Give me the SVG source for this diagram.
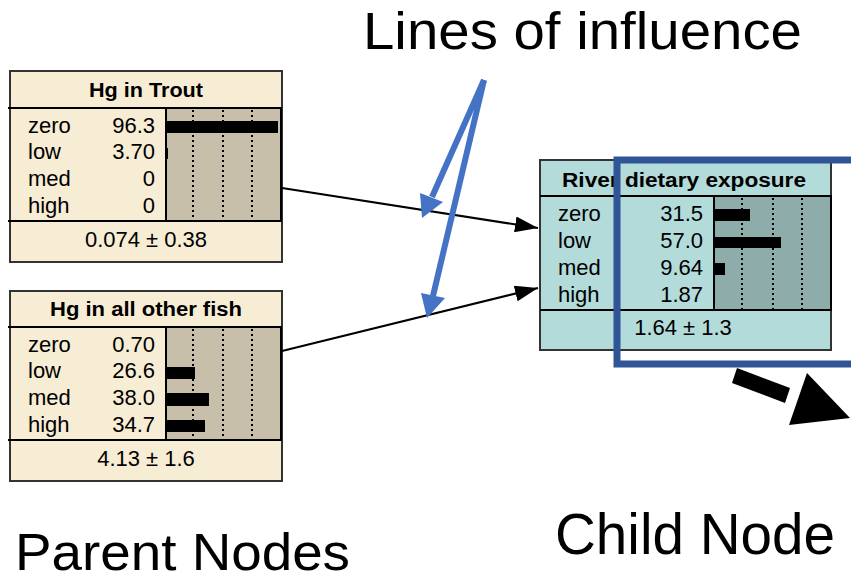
<svg xmlns="http://www.w3.org/2000/svg" width="851" height="587" viewBox="0 0 851 587">
<defs>
<style>
.frame{stroke:#333;stroke-width:2}
.par{fill:#F7EDD4}
.parbar{fill:#C8BFAA;stroke:#000;stroke-width:2}
.chi{fill:#B3DBDA}
.chibar{fill:#8EACAA;stroke:#000;stroke-width:2}
.sep{stroke:#000;stroke-width:2}
.dot{stroke:#000;stroke-width:2;stroke-dasharray:2,3}
.bar{fill:#000}
.t{font-family:"Liberation Sans",Arial,sans-serif;font-size:22px;fill:#000}
.tt{font-family:"Liberation Sans",Arial,sans-serif;font-size:20px;font-weight:bold;fill:#000}
.v{text-anchor:end}
.c{text-anchor:middle}
.big{font-family:"Liberation Sans",Arial,sans-serif;fill:#000}
.link{stroke:#000;stroke-width:2;fill:none}
.blue{stroke:#4472C4;stroke-width:6;fill:none;stroke-linecap:butt}
</style>
<marker id="ah" markerWidth="23" markerHeight="16" refX="23" refY="8" orient="auto" markerUnits="userSpaceOnUse" viewBox="0 0 23 16">
<path d="M0,0 L23,8 L0,16 Z" fill="#000"/>
</marker>
</defs>

<rect width="851" height="587" fill="#fff"/>

<g id="node-hg-trout">
<rect class="par frame" x="10" y="71" width="272" height="191"/>
<rect class="parbar" x="166" y="108" width="115" height="113"/>
<line class="sep" x1="8" y1="108" x2="282" y2="108"/>
<line class="sep" x1="8" y1="221" x2="282" y2="221"/>
<line class="dot" x1="193" y1="110" x2="193" y2="220"/>
<line class="dot" x1="223" y1="110" x2="223" y2="220"/>
<line class="dot" x1="252" y1="110" x2="252" y2="220"/>
<rect class="bar" x="166" y="121" width="112" height="12"/>
<rect class="bar" x="166" y="148" width="2" height="11"/>
<text class="tt c" x="146" y="97" textLength="114" lengthAdjust="spacingAndGlyphs">Hg in Trout</text>
<text class="t" x="28" y="133">zero</text><text class="t v" x="155" y="133">96.3</text>
<text class="t" x="28" y="159">low</text><text class="t v" x="155" y="159">3.70</text>
<text class="t" x="28" y="186">med</text><text class="t v" x="155" y="186">0</text>
<text class="t" x="28" y="213">high</text><text class="t v" x="155" y="213">0</text>
<text class="t c" x="146" y="247">0.074 ± 0.38</text>
</g>

<g id="node-hg-other">
<rect class="par frame" x="10" y="291" width="272" height="190"/>
<rect class="parbar" x="166" y="327" width="115" height="113"/>
<line class="sep" x1="8" y1="327" x2="282" y2="327"/>
<line class="sep" x1="8" y1="440" x2="282" y2="440"/>
<line class="dot" x1="193" y1="329" x2="193" y2="439"/>
<line class="dot" x1="223" y1="329" x2="223" y2="439"/>
<line class="dot" x1="252" y1="329" x2="252" y2="439"/>
<rect class="bar" x="166" y="367" width="29" height="12"/>
<rect class="bar" x="166" y="393" width="43" height="13"/>
<rect class="bar" x="166" y="420" width="39" height="12"/>
<text class="tt c" x="146" y="316" textLength="192" lengthAdjust="spacingAndGlyphs">Hg in all other fish</text>
<text class="t" x="28" y="352">zero</text><text class="t v" x="155" y="352">0.70</text>
<text class="t" x="28" y="378">low</text><text class="t v" x="155" y="378">26.6</text>
<text class="t" x="28" y="405">med</text><text class="t v" x="155" y="405">38.0</text>
<text class="t" x="28" y="432">high</text><text class="t v" x="155" y="432">34.7</text>
<text class="t c" x="146" y="466">4.13 ± 1.6</text>
</g>

<g id="node-river">
<rect class="chi frame" x="540" y="160" width="291" height="190"/>
<rect class="chibar" x="714" y="196" width="117" height="114"/>
<line class="sep" x1="540" y1="196" x2="831" y2="196"/>
<line class="sep" x1="540" y1="310" x2="831" y2="310"/>
<line class="dot" x1="742" y1="198" x2="742" y2="309"/>
<line class="dot" x1="773" y1="198" x2="773" y2="309"/>
<line class="dot" x1="802" y1="198" x2="802" y2="309"/>
<rect class="bar" x="714" y="209" width="36" height="12"/>
<rect class="bar" x="714" y="237" width="67" height="11"/>
<rect class="bar" x="714" y="263" width="11" height="12"/>
<text class="tt" x="562" y="187" textLength="244" lengthAdjust="spacingAndGlyphs">River dietary exposure</text>
<text class="t" x="558" y="221">zero</text><text class="t v" x="703" y="221">31.5</text>
<text class="t" x="558" y="248">low</text><text class="t v" x="703" y="248">57.0</text>
<text class="t" x="558" y="275">med</text><text class="t v" x="703" y="275">9.64</text>
<text class="t" x="558" y="302">high</text><text class="t v" x="703" y="302">1.87</text>
<text class="t c" x="683" y="335">1.64 ± 1.3</text>
</g>

<g id="connectors">
<line class="link" x1="282" y1="188" x2="538" y2="228" marker-end="url(#ah)"/>
<line class="link" x1="282" y1="351" x2="538" y2="288" marker-end="url(#ah)"/>
</g>

<g id="highlight">
<path d="M 860 160 H 617 V 364 H 860" fill="none" stroke="#2F5597" stroke-width="7"/>
<polygon points="737,368 732,383 785,403 790,388" fill="#000"/>
<polygon points="807,373 789,425 850,418" fill="#000"/>
</g>

<g id="annotation-arrows">
<line class="blue" x1="484" y1="80" x2="432" y2="197"/>
<polygon points="422,218 420,193 443,202" fill="#4472C4"/>
<line class="blue" x1="484" y1="80" x2="433" y2="296"/>
<polygon points="427,318 421,293 445,298" fill="#4472C4"/>
</g>

<g id="labels">
<text class="big" x="363" y="49" font-size="51" textLength="439" lengthAdjust="spacingAndGlyphs">Lines of influence</text>
<text class="big" x="555" y="554" font-size="57" textLength="280" lengthAdjust="spacingAndGlyphs">Child Node</text>
<text class="big" x="15" y="570" font-size="52" textLength="335" lengthAdjust="spacingAndGlyphs">Parent Nodes</text>
</g>
</svg>
